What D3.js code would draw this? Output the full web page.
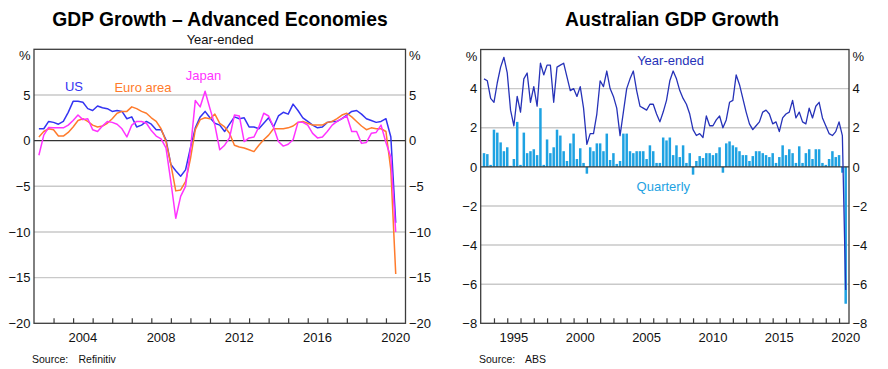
<!DOCTYPE html>
<html><head><meta charset="utf-8">
<script src="https://cdn.jsdelivr.net/npm/d3@7"></script>
<style>
html,body{margin:0;padding:0;background:#fff;}
svg{display:block;font-family:"Liberation Sans",Arial,sans-serif;}
</style></head><body>
<svg id="c" width="888" height="369"></svg>
<script>
// ---------- DATA ----------
// Left: year-ended GDP growth, quarterly, 2002Q1 .. 2020Q2
const advStart = 2002;
const usGrowth = [1.3,1.3,2.1,2.0,1.8,2.1,3.1,4.3,4.3,4.2,3.5,3.3,3.8,3.6,3.5,3.2,3.3,3.2,2.4,2.6,1.5,1.7,2.1,1.8,1.2,
  1.2,0.1,-2.6,-3.3,-3.9,-3.2,-0.8,1.4,2.6,3.2,2.5,1.9,1.7,1.0,1.8,2.6,2.4,2.5,1.5,1.5,1.3,1.9,2.5,1.5,2.7,
  3.1,2.9,4.0,3.3,2.5,2.1,1.7,1.4,1.5,2.0,2.1,2.1,2.4,2.8,3.2,3.3,2.9,2.4,2.2,2.0,2.1,2.4,0.4,-9.0];
const euroGrowth = [0.4,1.0,1.3,1.2,0.5,0.5,0.9,1.5,2.2,2.4,2.1,1.7,1.5,1.6,1.9,2.4,3.0,3.2,3.2,3.7,3.5,3.2,3.0,2.5,2.1,
  1.3,-0.1,-2.6,-5.5,-5.4,-4.5,-2.0,1.2,2.3,2.5,2.4,2.9,1.9,1.5,0.8,-0.5,-0.7,-0.8,-1.0,-1.2,-0.5,0.1,0.6,1.3,1.3,
  1.3,1.4,1.6,2.0,2.1,1.9,1.7,1.7,1.7,2.0,2.1,2.4,2.8,3.0,2.6,2.1,1.6,1.2,1.4,1.3,1.3,1.0,-3.2,-14.6];
const japanGrowth = [-1.6,0.6,1.45,1.4,1.4,1.4,1.7,2.2,2.8,2.3,2.4,1.2,1.0,1.6,2.1,2.0,1.8,1.3,0.4,1.7,2.1,2.1,1.9,1.1,0.5,
  0.2,-0.8,-4.5,-8.5,-6.1,-5.0,-1.0,4.4,3.7,5.4,3.5,1.7,-1.0,-0.5,0.3,2.8,2.7,-0.1,0.3,0.4,1.5,3.0,2.7,1.5,-0.1,
  -0.6,-0.4,0.1,2.0,2.0,1.7,0.8,0.3,0.4,1.0,1.7,2.1,2.4,2.7,1.0,1.0,-0.3,-0.2,0.8,0.9,1.7,-0.2,-1.8,-10.0];
const advSeries = [
  {name:"US", values:usGrowth, color:"#3434f2"},
  {name:"Euro area", values:euroGrowth, color:"#ff7b2c"},
  {name:"Japan", values:japanGrowth, color:"#ff33ff"}
];
const advYTicks = [-20,-15,-10,-5,0,5];
const advXLabels = [2004,2008,2012,2016,2020];

// Right: Australian GDP growth, quarterly, 1993Q1 .. 2020Q2
const ausStart = 1993;
const ausYearEnded = [4.5,4.4,3.5,3.3,4.3,5.1,5.6,4.8,2.9,2.1,3.6,2.8,4.5,4.8,3.3,4.1,3.1,5.3,4.7,5.2,5.2,3.3,5.1,5.2,5.3,4.6,3.9,4.0,3.6,4.1,3.0,1.15,1.7,1.7,2.7,4.4,4.1,
  4.9,4.0,3.6,3.0,1.6,2.8,4.0,4.5,4.9,3.9,3.1,3.0,2.9,3.2,3.2,2.7,2.3,2.8,3.4,4.4,4.9,4.5,3.9,3.5,3.2,2.7,1.9,1.6,1.7,1.5,2.6,2.1,2.1,2.4,2.6,
  2.0,2.4,3.3,3.4,4.7,4.2,3.5,2.8,2.2,1.9,2.1,2.3,2.8,2.9,2.7,2.2,2.3,1.8,2.5,2.7,2.8,3.4,2.5,2.8,2.3,2.2,3.0,2.5,3.1,3.3,2.5,2.1,1.7,1.6,1.8,2.3,1.6,-6.3];
const ausQuarterly = [0.7,0.65,0.1,1.9,1.75,1.25,0.8,1.0,0.05,0.4,2.3,0.1,1.75,0.7,0.8,0.9,0.6,3.0,0.1,1.4,0.7,1.0,1.9,1.6,0.8,0.3,1.2,1.7,0.4,0.95,0.2,-0.35,1.0,0.8,1.2,1.2,0.8,
  1.7,0.35,0.7,0.15,0.3,1.7,1.7,0.8,0.7,0.8,0.8,0.8,0.4,1.1,0.8,0.2,0.2,1.5,1.35,1.5,0.6,1.1,0.5,1.1,0.2,0.7,-0.4,0.3,0.55,0.45,0.7,0.7,0.6,0.7,1.0,-0.3,
  1.2,1.3,1.1,1.0,0.8,0.6,0.6,0.3,0.55,0.8,0.8,0.7,0.6,0.5,0.7,0.2,0.5,1.1,0.6,0.9,0.7,0.2,1.05,0.2,0.7,0.9,0.4,0.9,0.9,0.2,0.1,0.4,0.8,0.5,0.6,-0.3,-7.0];
const ausYTicks = [-8,-6,-4,-2,0,2,4];
const ausXLabels = [1995,2000,2005,2010,2015,2020];

// ---------- DRAW ----------
const svg = d3.select("#c");
const FS = 13;
const TFS = 19.3;
const gridC = "#c9c9c9", frameC = "#3c3c3c";

function qTime(start, i){ return start + (i+1)/4; }

function panel(cfg){
  const {x, y, gridVals} = cfg;
  const [x0,x1] = x.range();
  const g = svg.append("g");
  g.selectAll(".grid").data(gridVals).join("line")
    .attr("x1",x0).attr("x2",x1).attr("y1",d=>y(d)).attr("y2",d=>y(d))
    .attr("stroke",gridC).attr("stroke-width",1.4);
  cfg.g = g;
  return g;
}

function frameAndAxes(cfg){
  const {x, y, yTicks, yearTicks, xLabels, g} = cfg;
  const [x0,x1] = x.range(), [yb,yt] = y.range();
  g.append("line").attr("x1",x0).attr("x2",x1).attr("y1",y(0)).attr("y2",y(0))
    .attr("stroke","#333").attr("stroke-width",1.3);
  g.append("rect").attr("x",x0).attr("y",yt).attr("width",x1-x0).attr("height",yb-yt)
    .attr("fill","none").attr("stroke",frameC).attr("stroke-width",1.3);
  const ax = d3.axisBottom(x).tickValues(yearTicks).tickSize(-5).tickFormat("");
  const axg = g.append("g").attr("transform",`translate(0,${yb})`).call(ax);
  axg.select(".domain").remove();
  axg.selectAll(".tick line").attr("stroke",frameC).attr("stroke-width",1.2);
  g.selectAll(".xl").data(xLabels).join("text")
    .attr("x",d=>x(d+0.5)).attr("y",yb+18.5).attr("text-anchor","middle")
    .attr("font-size",FS).attr("fill","#111").text(d=>d);
  const axL = d3.axisLeft(y).tickValues(yTicks).tickSize(0).tickPadding(3.5);
  const gl = g.append("g").attr("transform",`translate(${x0},0)`).call(axL);
  const axR = d3.axisRight(y).tickValues(yTicks).tickSize(0).tickPadding(3.5);
  const gr = g.append("g").attr("transform",`translate(${x1},0)`).call(axR);
  [gl,gr].forEach(a=>{ a.select(".domain").remove();
    a.selectAll("text").attr("font-size",FS).attr("font-family","'Liberation Sans',Arial,sans-serif").attr("fill","#111"); });
  g.append("text").attr("x",x0-3.5).attr("y",yt+11).attr("text-anchor","end").attr("font-size",FS).attr("fill","#111").text("%");
  g.append("text").attr("x",x1+3.5).attr("y",yt+11).attr("text-anchor","start").attr("font-size",FS).attr("fill","#111").text("%");
}

// ----- Left panel -----
const xL = d3.scaleLinear().domain([2002,2021]).range([34,405.5]);
const yL = d3.scaleLinear().domain([-20,10]).range([323.3,49.3]);
const left = {x:xL, y:yL, gridVals:[-15,-10,-5,5], yTicks:advYTicks,
  yearTicks:d3.range(2003,2021), xLabels:advXLabels};
const gL = panel(left);
frameAndAxes(left);
const lineL = d3.line().x((d,i)=>xL(qTime(advStart,i))).y(d=>yL(d));
gL.selectAll(".ser").data(advSeries).join("path")
  .attr("d",d=>lineL(d.values)).attr("fill","none")
  .attr("stroke",d=>d.color).attr("stroke-width",1.5).attr("stroke-linejoin","round");
const advLabelPos = {"US":[74,90.5],"Euro area":[143,91.5],"Japan":[203.5,79.5]};
advSeries.forEach(s=>{
  gL.append("text").attr("x",advLabelPos[s.name][0]).attr("y",advLabelPos[s.name][1])
    .attr("text-anchor","middle").attr("font-size",FS).attr("fill",s.color).text(s.name);
});
svg.append("text").attr("x",220).attr("y",26).attr("text-anchor","middle")
  .attr("font-size",TFS).attr("font-weight","bold").attr("fill","#000").text("GDP Growth – Advanced Economies");
svg.append("text").attr("x",220).attr("y",43.5).attr("text-anchor","middle")
  .attr("font-size",FS).attr("fill","#111").text("Year-ended");
svg.append("text").attr("x",32).attr("y",362.5).attr("font-size",10.5).attr("fill","#111").text("Source:");
svg.append("text").attr("x",78.5).attr("y",362.5).attr("font-size",10.5).attr("fill","#111").text("Refinitiv");

// ----- Right panel -----
const xR = d3.scaleLinear().domain([1993,2020.75]).range([480.7,849]);
const yR = d3.scaleLinear().domain([-8,6]).range([323.3,49.5]);
const right = {x:xR, y:yR, gridVals:[-6,-4,-2,2,4], yTicks:ausYTicks,
  yearTicks:d3.range(1994,2021), xLabels:ausXLabels};
const gR = panel(right);
const bw = 2.5;
gR.selectAll(".bar").data(ausQuarterly).join("rect")
  .attr("x",(d,i)=>xR(qTime(ausStart,i))-bw/2)
  .attr("y",d=>yR(Math.max(0,d)))
  .attr("width",bw)
  .attr("height",d=>Math.abs(yR(d)-yR(0)))
  .attr("fill","#1ea2e2");
frameAndAxes(right);
const lineR = d3.line().x((d,i)=>xR(qTime(ausStart,i))).y(d=>yR(d));
gR.append("path").attr("d",lineR(ausYearEnded)).attr("fill","none")
  .attr("stroke","#2632b8").attr("stroke-width",1.3).attr("stroke-linejoin","round");
gR.append("text").attr("x",670.5).attr("y",64.5).attr("text-anchor","middle")
  .attr("font-size",FS).attr("fill","#2632b8").text("Year-ended");
gR.append("text").attr("x",663.3).attr("y",191).attr("text-anchor","middle")
  .attr("font-size",FS).attr("fill","#1ea2e2").text("Quarterly");
svg.append("text").attr("x",672).attr("y",26).attr("text-anchor","middle")
  .attr("font-size",TFS).attr("font-weight","bold").attr("fill","#000").text("Australian GDP Growth");
svg.append("text").attr("x",479).attr("y",362.5).attr("font-size",10.5).attr("fill","#111").text("Source:");
svg.append("text").attr("x",525).attr("y",362.5).attr("font-size",10.5).attr("fill","#111").text("ABS");
</script>
</body></html>
